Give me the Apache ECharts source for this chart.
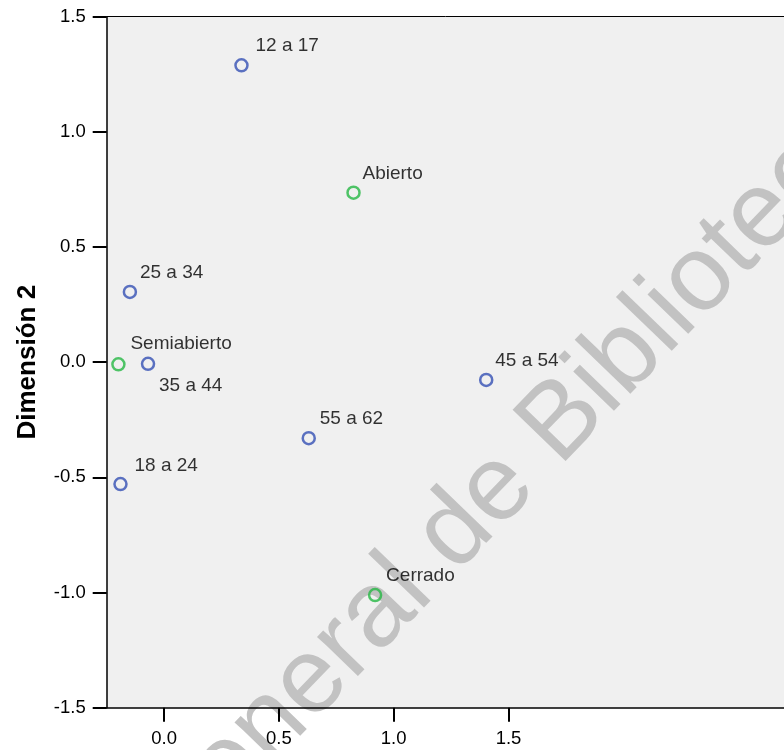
<!DOCTYPE html>
<html>
<head>
<meta charset="utf-8">
<title>Dimensión 1 / Dimensión 2</title>
<script src="https://cdn.jsdelivr.net/npm/echarts@6/dist/echarts.min.js"></script>
<style>
  html, body { margin: 0; padding: 0; background: #ffffff; }
  #chart { width: 784px; height: 750px; }
</style>
</head>
<body>
<div id="chart"></div>
<script>
// Age groups (blue points)
const edadNombres = ['12 a 17', '18 a 24', '25 a 34', '35 a 44', '45 a 54', '55 a 62'];
const edadDim1 = [0.337, -0.190, -0.149, -0.070, 1.403, 0.630];
const edadDim2 = [1.289, -0.529, 0.305, -0.007, -0.077, -0.330];

// Library type (green points)
const tipoNombres = ['Abierto', 'Semiabierto', 'Cerrado'];
const tipoDim1 = [0.825, -0.199, 0.919];
const tipoDim2 = [0.736, -0.009, -1.011];

// Axis tick values
const ticksX = [0.0, 0.5, 1.0, 1.5];
const ticksY = [-1.5, -1.0, -0.5, 0.0, 0.5, 1.0, 1.5];

// Label placement relative to each point (pixels)
const edadLabelOffsets = [[14, -20], [14, -18], [10, -19], [11, 22], [9, -19], [11, -19]];
const tipoLabelOffsets = [[9, -19], [12, -21], [11, -19]];

const FONT = "'Liberation Sans', Arial, sans-serif";
const AZUL = '#3450b4';
const VERDE = '#25b844';

function puntos(nombres, xs, ys, offsets) {
  return nombres.map((n, i) => ({
    name: n,
    value: [xs[i], ys[i]],
    label: { offset: offsets[i] }
  }));
}

function serie(nombre, datos, color) {
  return {
    name: nombre,
    type: 'scatter',
    z: 4,
    symbol: 'circle',
    symbolSize: 12,
    itemStyle: { color: 'rgba(0,0,0,0)', borderColor: color, borderWidth: 2.5 },
    label: {
      show: true,
      position: 'inside',
      align: 'left',
      verticalAlign: 'middle',
      formatter: p => p.name,
      color: '#000',
      fontFamily: FONT,
      fontSize: 19
    },
    emphasis: { disabled: true },
    data: datos
  };
}

const chart = echarts.init(document.getElementById('chart'), null, { renderer: 'canvas' });

const fmt = v => Number(v).toFixed(1);

chart.setOption({
  animation: false,
  backgroundColor: '#ffffff',
  grid: {
    z: 0,
    left: 106.7, top: 16.7, right: 0, bottom: 42.3,
    show: true, backgroundColor: '#f0f0f0', borderWidth: 0
  },
  xAxis: [
    {
      type: 'value',
      z: 3,
      min: -0.25, max: 2.7,
      position: 'bottom',
      axisLine: { show: true, onZero: false, lineStyle: { color: '#000', width: 1.5 } },
      axisTick: { show: true, length: 14, customValues: ticksX, lineStyle: { color: '#000', width: 2 } },
      axisLabel: { customValues: ticksX, formatter: fmt, color: '#000', fontFamily: FONT, fontSize: 18.5, margin: 22 },
      splitLine: { show: false }
    },
    {
      type: 'value',
      z: 3,
      min: -0.25, max: 2.7,
      position: 'top',
      axisLine: { show: true, onZero: false, lineStyle: { color: '#000', width: 1 } },
      axisTick: { show: false },
      axisLabel: { show: false },
      splitLine: { show: false }
    }
  ],
  yAxis: {
    type: 'value',
    z: 3,
    min: ticksY[0], max: ticksY[ticksY.length - 1], interval: 0.5,
    name: 'Dimensión 2',
    nameLocation: 'middle',
    nameRotate: 90,
    nameGap: 66,
    nameTextStyle: { color: '#000', fontFamily: FONT, fontSize: 26, fontWeight: 'bold' },
    axisLine: { show: true, onZero: false, lineStyle: { color: '#000', width: 1.5 } },
    axisTick: { show: true, length: 14, lineStyle: { color: '#000', width: 2 } },
    axisLabel: { formatter: fmt, color: '#000', fontFamily: FONT, fontSize: 18.5, margin: 21 },
    splitLine: { show: false }
  },
  graphic: [
    {
      // diagonal watermark text
      type: 'text',
      z: 1,
      silent: true,
      x: 149.8,
      y: 849,
      rotation: 46 * Math.PI / 180,
      style: {
        text: 'General de Bibliotecas',
        font: "107px 'Liberation Sans', Arial, sans-serif",
        fill: '#c2c2c2',
        align: 'left',
        verticalAlign: 'middle'
      }
    }
  ],
  series: [
    serie('Edad', puntos(edadNombres, edadDim1, edadDim2, edadLabelOffsets), AZUL),
    serie('Tipo', puntos(tipoNombres, tipoDim1, tipoDim2, tipoLabelOffsets), VERDE)
  ]
});
</script>
</body>
</html>
